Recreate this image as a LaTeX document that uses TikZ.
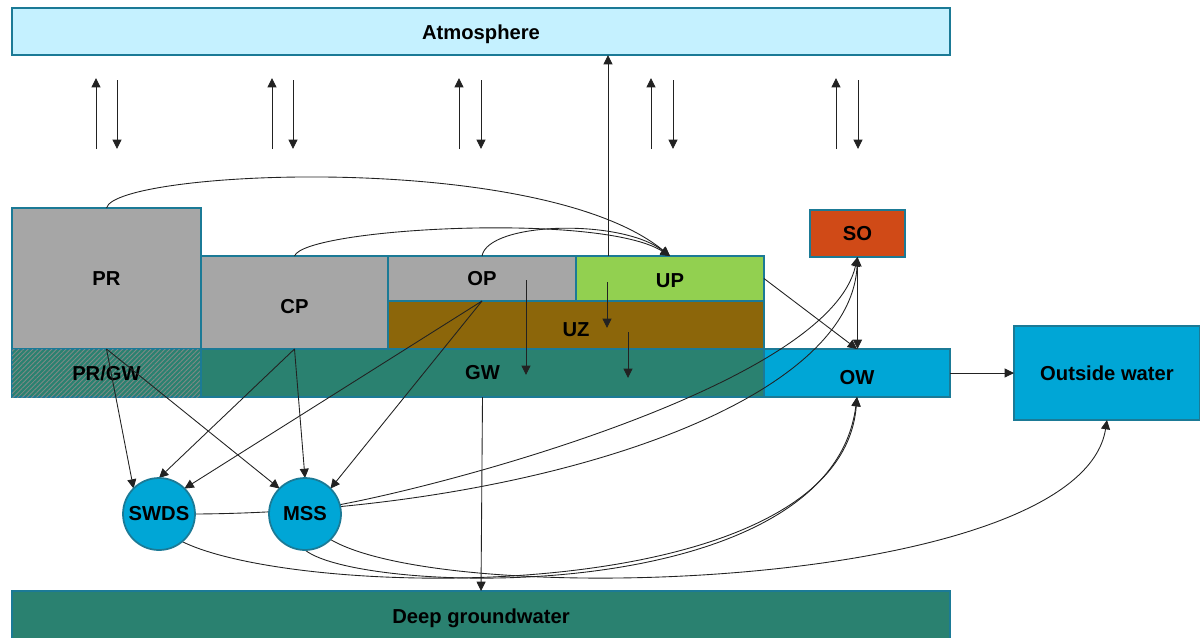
\documentclass[tikz,border=0pt]{standalone}
\usepackage{fontspec}
\setmainfont{Liberation Sans}
\usetikzlibrary{arrows.meta,patterns.meta}
\pgfdeclarelayer{blocks}
\pgfdeclarelayer{discs}
\pgfsetlayers{blocks,main,discs}

\definecolor{edge}{HTML}{1B7A96}
\definecolor{airfill}{HTML}{C5F1FF}
\definecolor{paved}{HTML}{A6A6A6}
\definecolor{unpaved}{HTML}{92D050}
\definecolor{soil}{HTML}{8C660A}
\definecolor{ground}{HTML}{2A8170}
\definecolor{water}{HTML}{00A6D6}
\definecolor{overflow}{HTML}{D04A17}
\definecolor{hatch}{HTML}{7E8A86}
\definecolor{link}{HTML}{222222}

\begin{document}
\begin{tikzpicture}[x=0.02cm,y=-0.02cm,
  blk/.style={draw=edge, line width=1pt, inner sep=0pt, outer sep=0pt,
    font=\fontsize{11.5}{13}\selectfont\bfseries, text=black},
  lowtext/.style={text height=#1},
  disc/.style={blk, circle, fill=water, minimum size=1.44cm},
  flow/.style={draw=link, line width=0.5pt, -{Triangle[length=5.3pt,width=5.1pt]}}]

\useasboundingbox (0,0) rectangle (1200,637);

% ---- compartments ----
\begin{pgfonlayer}{blocks}
\node[blk, fill=airfill, lowtext=11.8pt, minimum width=18.76cm, minimum height=0.94cm] (atm) at (481,31.5) {Atmosphere};
\node[blk, fill=paved, minimum width=3.78cm, minimum height=2.82cm] (pr) at (106.5,278.5) {PR};
\node[blk, fill=paved, lowtext=12.7pt, minimum width=3.74cm, minimum height=1.86cm] (cp) at (294.5,302.5) {CP};
\node[blk, fill=paved, minimum width=3.76cm, minimum height=0.90cm] (op) at (482,278.5) {OP};
\node[blk, fill=unpaved, lowtext=10.5pt, minimum width=3.76cm, minimum height=0.90cm] (upv) at (670,278.5) {UP};
\node[blk, fill=soil, lowtext=12.7pt, minimum width=7.52cm, minimum height=0.96cm] (uz) at (576,325) {UZ};
\node[blk, fill=ground, postaction={pattern={Lines[angle=45,distance=1.9pt,line width=0.5pt]}, pattern color=hatch},
      minimum width=3.78cm, minimum height=0.96cm] (prgw) at (106.5,373) {PR/GW};
\node[blk, fill=ground, minimum width=11.26cm, minimum height=0.96cm] (gw) at (482.5,373) {GW};
\node[blk, fill=water, lowtext=12.7pt, minimum width=3.72cm, minimum height=0.96cm] (ow) at (857,373) {OW};
\node[blk, fill=water, minimum width=3.72cm, minimum height=1.88cm] (outw) at (1107,373) {Outside water};
\node[blk, fill=overflow, minimum width=1.9cm, minimum height=0.94cm] (so) at (857.5,233.5) {SO};
\node[blk, fill=ground, minimum width=18.76cm, minimum height=1.1cm] (deep) at (481,618.5) {Deep groundwater};
\end{pgfonlayer}

% ---- sewer systems ----
\begin{pgfonlayer}{discs}
\node[disc] (swds) at (159,514) {SWDS};
\node[disc] (mss) at (305,514) {MSS};
\end{pgfonlayer}

% ---- exchange with the atmosphere ----
\foreach \u/\d [count=\i] in {96/117, 272/293, 459/481, 651/673, 836/858}{
  \coordinate (rise\i a) at (\u,149); \coordinate (rise\i b) at (\u,78);
  \coordinate (fall\i a) at (\d,80);  \coordinate (fall\i b) at (\d,149);
  \draw[flow] (rise\i a) -- (rise\i b);
  \draw[flow] (fall\i a) -- (fall\i b);
}
\coordinate (evap) at (608,0);
\draw[flow] (upv.north -| evap) -- (atm.south -| evap);

% ---- runoff towards the unpaved area ----
\draw[flow] (pr.north) .. controls (115,170) and (540,150) .. (upv.north);
\draw[flow] (cp.north) .. controls (305,228) and (600,212) .. (upv.north);
\draw[flow] (op.north) .. controls (488,222) and (620,218) .. (upv.north);

% ---- percolation ----
\coordinate (perc1a) at (526,280); \coordinate (perc1b) at (526,375);
\coordinate (perc2a) at (607,282); \coordinate (perc2b) at (607,328);
\coordinate (perc3a) at (628,332); \coordinate (perc3b) at (628,378);
\draw[flow] (perc1a) -- (perc1b);
\draw[flow] (perc2a) -- (perc2b);
\draw[flow] (perc3a) -- (perc3b);
\draw[flow] (gw.south) -- (deep.north);

% ---- inflow to the sewer systems ----
\draw[flow] (prgw.north) -- (swds.135);
\draw[flow] (prgw.north) -- (mss.135);
\draw[flow] (cp.south) -- (swds.north);
\draw[flow] (cp.south) -- (mss.north);
\draw[flow] (op.south) -- (swds.45);
\draw[flow] (op.south) -- (mss.45);

% ---- surface water ----
\draw[flow] (upv.east) -- (ow.north);
\draw[flow] (so.south) -- (so.south |- ow.north);
\draw[flow] (ow.east) -- (outw.west);

% ---- sewer outflows ----
\draw[flow] (swds.east) .. controls (520,512) and (850,410) .. (so.south);
\draw[flow] (mss.15) .. controls (470,480) and (830,380) .. (so.south);
\draw[flow] (swds.-50) .. controls (300,600) and (840,610) .. (ow.south);
\draw[flow] (mss.south) .. controls (360,595) and (830,610) .. (ow.south);
\draw[flow] (mss.-45) .. controls (450,610) and (1080,590) .. (outw.south);

\end{tikzpicture}
\end{document}
